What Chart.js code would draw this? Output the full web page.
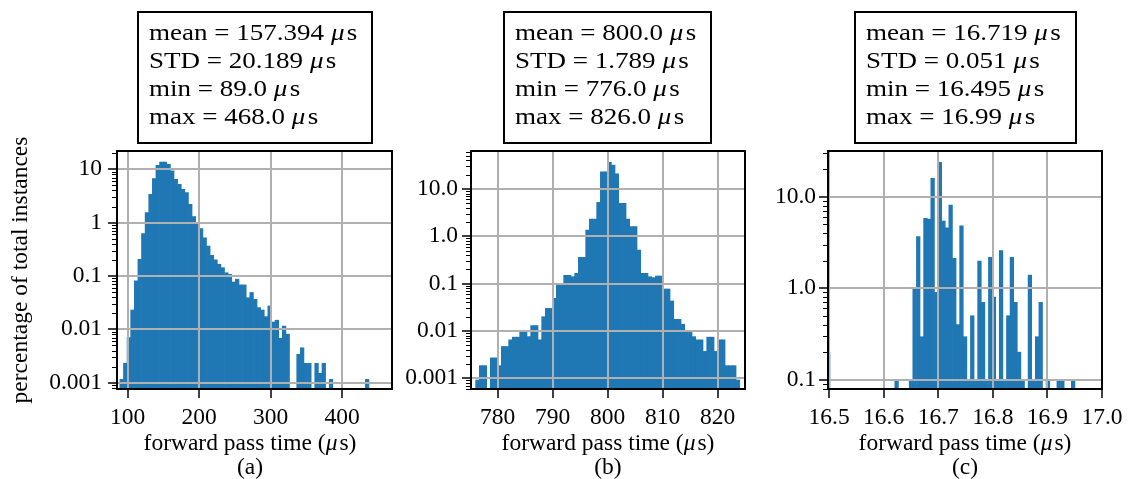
<!DOCTYPE html>
<html><head><meta charset="utf-8">
<script src="https://cdn.jsdelivr.net/npm/chart.js@4.4.1/dist/chart.umd.min.js"></script>
<style>
html,body{margin:0;padding:0;background:#fff;}
#wrap{position:relative;width:1130px;height:479px;overflow:hidden;font-family:"Liberation Serif","Times New Roman",serif;color:#000;}
canvas{position:absolute;top:0;}
.box{position:absolute;top:11px;height:133px;box-sizing:border-box;border:2px solid #000;font-size:23.5px;line-height:28px;padding:5px 0 0 10px;white-space:nowrap;}
.box .t{transform:scaleX(1.15);transform-origin:0 0;}
.lbl{position:absolute;font-size:23.5px;line-height:28px;white-space:nowrap;transform:translateX(-50%);}
i{font-style:italic;margin-right:2px;}
</style></head>
<body><div id="wrap">
<canvas id="ca" width="430" height="479" style="left:0px"></canvas>
<canvas id="cb" width="390" height="479" style="left:395px"></canvas>
<canvas id="cc" width="370" height="479" style="left:760px"></canvas>
<div class="box" style="left:137px;width:236px"><div class="t">mean = 157.394 <i>μ</i>s<br>STD = 20.189 <i>μ</i>s<br>min = 89.0 <i>μ</i>s<br>max = 468.0 <i>μ</i>s</div></div>
<div class="box" style="left:503px;width:209px"><div class="t">mean = 800.0 <i>μ</i>s<br>STD = 1.789 <i>μ</i>s<br>min = 776.0 <i>μ</i>s<br>max = 826.0 <i>μ</i>s</div></div>
<div class="box" style="left:854px;width:223px"><div class="t">mean = 16.719 <i>μ</i>s<br>STD = 0.051 <i>μ</i>s<br>min = 16.495 <i>μ</i>s<br>max = 16.99 <i>μ</i>s</div></div>
<div class="lbl" style="left:250px;top:428px">forward pass time (<i>μ</i>s)</div>
<div class="lbl" style="left:608px;top:428px">forward pass time (<i>μ</i>s)</div>
<div class="lbl" style="left:965px;top:428px">forward pass time (<i>μ</i>s)</div>
<div class="lbl" style="left:250px;top:452px">(a)</div>
<div class="lbl" style="left:608px;top:452px">(b)</div>
<div class="lbl" style="left:965px;top:452px">(c)</div>
</div>
<script>
// ---------- data ----------
const binStartA = 89, binWidthA = 379 / 75;
const valuesA = [0.00115, 0.0023, 0.007, 0.023, 0.081, 0.205, 0.62, 1.54, 3.4, 6.7,
  11.9, 13.7, 13.7, 12.4, 9.3, 6.5, 5.2, 4.2, 3.65, 2.2,
  1.3, 0.97, 0.77, 0.52, 0.365, 0.244, 0.2, 0.166, 0.143, 0.115,
  0.107, 0.077, 0.087, 0.068, 0.068, 0.039, 0.049, 0.0365, 0.0255, 0.023,
  0.0173, 0.0274, 0.0137, 0.0148, 0.0068, 0.0115, 0.0081, null, null, 0.0034,
  0.0045, 0.0023, 0.0023, null, 0.0023, 0.0015, 0.0023, null, 0.00115, null,
  null, null, null, null, null, null, null, null, 0.00115];
const binStartB = 776, binWidthB = 50 / 75;
const valuesB = [0.00092, 0.00185, 0.00185, null, 0.0027, 0.0027, 0.00185, 0.0047, 0.0047, 0.0065,
  0.0074, 0.0074, 0.0100, 0.0100, 0.0076, 0.013, 0.013, 0.0065, 0.020, 0.030,
  0.030, 0.049, 0.10, 0.10, 0.15, 0.15, 0.14, 0.165, 0.36, 0.36,
  1.36, 2.3, 2.3, 5.2, 23, 23, 36.5, 32, 21, 5.0,
  5.0, 2.3, 1.6, 1.6, 0.51, 0.165, 0.165, 0.14, 0.134, 0.145,
  0.145, 0.077, 0.077, 0.043, 0.0176, 0.0176, 0.0138, 0.0100, 0.0100, 0.0076,
  0.0065, 0.0065, 0.0037, 0.0074, 0.0074, 0.0037, 0.0065, 0.0065, 0.00185, 0.00185,
  0.00185, 0.00092];
const binStartC = 16.495, binWidthC = 0.495 / 75;
const valuesC = [0.2, null, null, null, null, null, null, null, null, null,
  null, null, null, null, null, null, null, null, null, 0.1,
  null, null, null, 0.1, 1.0, 3.66, 0.295, 5.8, 5.7, 15.9,
  0.9, 23.7, 5.42, 4.58, 8.1, 2.12, 0.4, 4.8, 0.295, 0.1,
  0.5, 0.1, 1.98, 0.7, 0.1, 2.17, 0.8, 0.1, 2.57, 0.1,
  0.5, 2.17, 0.7, 0.2, 0.1, null, 1.39, 0.1, 0.295, 0.7,
  null, 0.1, null, null, 0.1, 0.1, null, null, 0.1];

const xTicksA = [100, 200, 300, 400];
const xLabelsA = ['100', '200', '300', '400'];
const xTicksB = [780, 790, 800, 810, 820];
const xLabelsB = ['780', '790', '800', '810', '820'];
const xTicksC = [16.5, 16.6, 16.7, 16.8, 16.9, 17.0];
const xLabelsC = ['16.5', '16.6', '16.7', '16.8', '16.9', '17.0'];
const yTicksA = [0.001, 0.01, 0.1, 1, 10];
const yLabelsA = ['0.001', '0.01', '0.1', '1', '10'];
const yTicksB = [0.001, 0.01, 0.1, 1, 10];
const yLabelsB = ['0.001', '0.01', '0.1', '1.0', '10.0'];
const yTicksC = [0.1, 1, 10];
const yLabelsC = ['0.1', '1.0', '10.0'];
const yTitle = 'percentage of total instances';

// ---------- drawing ----------
const FONT = {family: '"Liberation Serif", "Times New Roman", serif', size: 23.5};
const BAR = '#1f77b4';

const framePlugin = {
  id: 'frame',
  afterDraw(chart) {
    const {ctx, chartArea: a} = chart;
    const y = chart.scales.y;
    ctx.save();
    ctx.strokeStyle = '#000';
    ctx.lineWidth = 1.2;
    ctx.beginPath();
    for (let k = -5; k <= 2; k++) {
      for (let m = 2; m <= 9; m++) {
        const v = m * Math.pow(10, k);
        if (v > y.min && v < y.max) {
          const py = Math.round(y.getPixelForValue(v)) + 0.5;
          ctx.moveTo(a.left - 5, py);
          ctx.lineTo(a.left, py);
        }
      }
    }
    ctx.stroke();
    ctx.lineWidth = 2;
    ctx.strokeRect(a.left, a.top, a.right - a.left, a.bottom - a.top);
    ctx.restore();
  }
};

function makeChart(id, cfg) {
  const points = cfg.values
    .map((v, i) => ({x: cfg.start + cfg.width * (i + 0.5), y: v}))
    .filter(p => p.y !== null);
  new Chart(document.getElementById(id), {
    type: 'bar',
    data: {datasets: [{data: points, backgroundColor: BAR, borderWidth: 0,
      barPercentage: 1, categoryPercentage: 1}]},
    options: {
      responsive: false, animation: false,
      layout: {padding: {left: 0, right: cfg.padRight, top: 151, bottom: 50}},
      plugins: {legend: {display: false}, tooltip: {enabled: false}},
      scales: {
        x: {
          type: 'linear', offset: false, min: cfg.xmin, max: cfg.xmax,
          grid: {offset: false, z: 1, color: '#b0b0b0', lineWidth: 2, tickColor: '#000',
                 tickWidth: 1.5, tickLength: 9},
          border: {display: false},
          afterBuildTicks: s => { s.ticks = cfg.xTicks.map(v => ({value: v})); },
          afterFit: s => { s.height = 40; },
          ticks: {autoSkip: false, maxRotation: 0, color: '#000', font: FONT, padding: 6,
                  callback: (v, i) => cfg.xLabels[i]}
        },
        y: {
          type: 'logarithmic', min: cfg.ymin, max: cfg.ymax,
          grid: {z: 1, color: '#b0b0b0', lineWidth: 2, tickColor: '#000', tickWidth: 1.5, tickLength: 9},
          border: {display: false},
          afterBuildTicks: s => { s.ticks = cfg.yTicks.map(v => ({value: v})); },
          afterFit: s => { s.width = cfg.yWidth; },
          ticks: {autoSkip: false, color: '#000', font: FONT, padding: cfg.yPad,
                  callback: (v, i) => cfg.yLabels[i]},
          title: cfg.yTitle ? {display: true, text: cfg.yTitle, color: '#000', font: FONT,
                  padding: {top: 7, bottom: 0}} : {display: false}
        }
      }
    },
    plugins: [framePlugin]
  });
}

makeChart('ca', {values: valuesA, start: binStartA, width: binWidthA, xmin: 85, xmax: 470,
  ymin: 0.00076, ymax: 22, xTicks: xTicksA, xLabels: xLabelsA, yTicks: yTicksA, yLabels: yLabelsA,
  yWidth: 117, yPad: 6, padRight: 38, yTitle: yTitle});
makeChart('cb', {values: valuesB, start: binStartB, width: binWidthB, xmin: 775.15, xmax: 824.96,
  ymin: 0.000594, ymax: 63.5, xTicks: xTicksB, xLabels: xLabelsB, yTicks: yTicksB, yLabels: yLabelsB,
  yWidth: 76, yPad: 4, padRight: 40});
makeChart('cc', {values: valuesC, start: binStartC, width: binWidthC, xmin: 16.498, xmax: 17.0,
  ymin: 0.0791, ymax: 31.6, xTicks: xTicksC, xLabels: xLabelsC, yTicks: yTicksC, yLabels: yLabelsC,
  yWidth: 68, yPad: 3, padRight: 28});
</script>
</body></html>
